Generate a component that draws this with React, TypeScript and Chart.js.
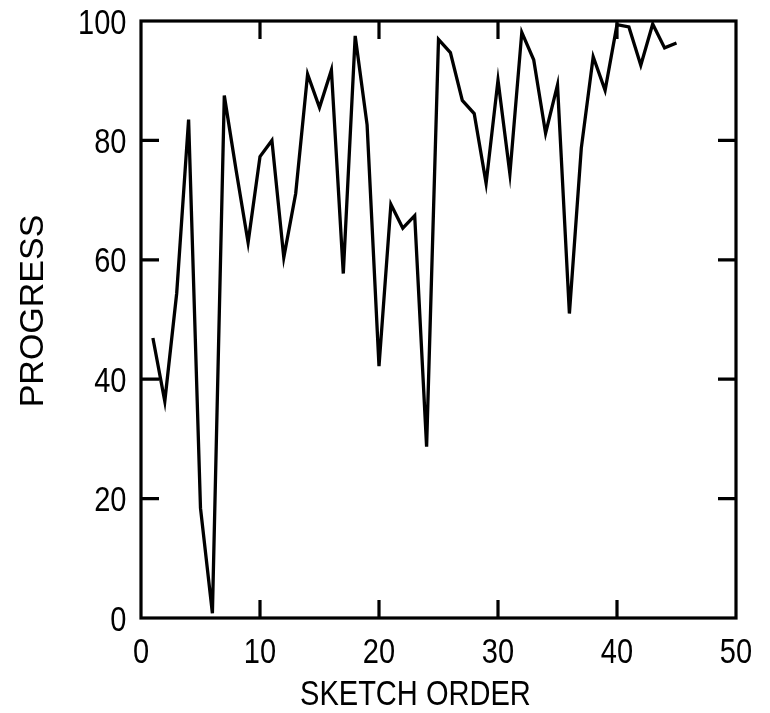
import React, { useEffect, useRef } from "react";
import { Chart, registerables } from "chart.js";

Chart.register(...registerables);

const sketchOrder = [1, 2, 3, 4, 5, 6, 7, 8, 9, 10, 11, 12, 13, 14, 15, 16, 17, 18, 19, 20, 21, 22, 23, 24, 25, 26, 27, 28, 29, 30, 31, 32, 33, 34, 35, 36, 37, 38, 39, 40, 41, 42, 43, 44, 45];
const progress = [46.9, 36.3, 54.4, 83.5, 18.4, 0.8, 87.5, 74.9, 62.9, 77.3, 80.0, 60.4, 71.1, 91.1, 85.5, 91.8, 57.7, 97.5, 82.6, 42.2, 69.3, 65.3, 67.4, 28.7, 96.9, 94.7, 86.7, 84.5, 72.8, 90.1, 74.4, 98.1, 93.5, 81.2, 89.3, 51.0, 78.7, 94.0, 88.4, 99.4, 99.0, 92.6, 99.5, 95.5, 96.3];
const xTickValues = [0, 10, 20, 30, 40, 50];
const xTickLabels = ["0", "10", "20", "30", "40", "50"];
const yTickValues = [0, 20, 40, 60, 80, 100];
const yTickLabels = ["0", "20", "40", "60", "80", "100"];
const xTitle = "SKETCH ORDER";
const yTitle = "PROGRESS";

const FONT = "'Liberation Sans', Arial, Helvetica, sans-serif";
const CONDENSE = 0.83;

function condensedText(ctx: any, text: string, x: number, y: number, align: string) {
  ctx.save();
  ctx.translate(x, y);
  ctx.scale(CONDENSE, 1);
  ctx.textAlign = align;
  ctx.textBaseline = "alphabetic";
  ctx.fillText(text, 0, 0);
  ctx.restore();
}

const framePlugin = {
  id: "frameTicks",
  afterDraw(chart: any) {
    const { ctx, chartArea } = chart;
    const xs = chart.scales.x;
    const ys = chart.scales.y;
    const len = 18;
    ctx.save();
    ctx.strokeStyle = "#000";
    ctx.lineWidth = 3.2;
    ctx.lineCap = "butt";
    ctx.strokeRect(chartArea.left, chartArea.top, chartArea.right - chartArea.left, chartArea.bottom - chartArea.top);
    ctx.beginPath();
    for (const v of xTickValues.slice(1, -1)) {
      const px = xs.getPixelForValue(v);
      ctx.moveTo(px, chartArea.bottom);
      ctx.lineTo(px, chartArea.bottom - len);
      ctx.moveTo(px, chartArea.top);
      ctx.lineTo(px, chartArea.top + len);
    }
    for (const v of yTickValues.slice(1, -1)) {
      const py = ys.getPixelForValue(v);
      ctx.moveTo(chartArea.left, py);
      ctx.lineTo(chartArea.left + len, py);
      ctx.moveTo(chartArea.right, py);
      ctx.lineTo(chartArea.right - len, py);
    }
    ctx.stroke();

    ctx.fillStyle = "#000";
    ctx.font = `35px ${FONT}`;
    // tick labels (condensed Arial-like, as in the reference)
    xTickValues.forEach((v, i) => {
      condensedText(ctx, xTickLabels[i], xs.getPixelForValue(v), chartArea.bottom + 45, "center");
    });
    yTickValues.forEach((v, i) => {
      condensedText(ctx, yTickLabels[i], chartArea.left - 14.5, ys.getPixelForValue(v) + 12.5, "right");
    });
    // axis titles
    condensedText(ctx, xTitle, 300, 705, "left");
    ctx.font = `34px ${FONT}`;
    ctx.translate(43, 311);
    ctx.rotate(-Math.PI / 2);
    ctx.textAlign = "center";
    ctx.textBaseline = "alphabetic";
    ctx.fillText(yTitle, 0, 0);
    ctx.restore();
  },
};

export default function App() {
  const ref = useRef<HTMLCanvasElement | null>(null);
  useEffect(() => {
    if (!ref.current) return;
    const chart = new Chart(ref.current, {
      type: "line",
      data: {
        datasets: [
          {
            label: yTitle,
            data: sketchOrder.map((x, i) => ({ x, y: progress[i] })),
            borderColor: "#000",
            borderWidth: 3.3,
            pointRadius: 0,
            tension: 0,
            fill: false,
            borderJoinStyle: "miter",
          },
        ],
      },
      options: {
        responsive: false,
        animation: false,
        layout: { padding: { top: 21, right: 34, left: 0, bottom: 0 } },
        plugins: { legend: { display: false }, tooltip: { enabled: false } },
        scales: {
          x: {
            type: "linear",
            min: 0,
            max: 50,
            afterBuildTicks: (s: any) => {
              s.ticks = xTickValues.map((v) => ({ value: v }));
            },
            afterFit: (s: any) => {
              s.height = 95;
              s.paddingLeft = 0;
              s.paddingRight = 0;
            },
            grid: { display: false, drawTicks: false },
            border: { display: false },
            ticks: { display: false },
            title: { display: false, text: xTitle },
          },
          y: {
            type: "linear",
            min: 0,
            max: 100,
            afterBuildTicks: (s: any) => {
              s.ticks = yTickValues.map((v) => ({ value: v }));
            },
            afterFit: (s: any) => {
              s.width = 141;
              s.paddingTop = 0;
              s.paddingBottom = 0;
            },
            grid: { display: false, drawTicks: false },
            border: { display: false },
            ticks: { display: false },
            title: { display: false, text: yTitle },
          },
        },
      },
      plugins: [framePlugin],
    } as any);
    return () => chart.destroy();
  }, []);
  return (
    <div style={{ position: "fixed", left: 0, top: 0, width: 770, height: 713, background: "#fff" }}>
      <canvas ref={ref} width={770} height={713} style={{ width: 770, height: 713, display: "block" }} />
    </div>
  );
}
